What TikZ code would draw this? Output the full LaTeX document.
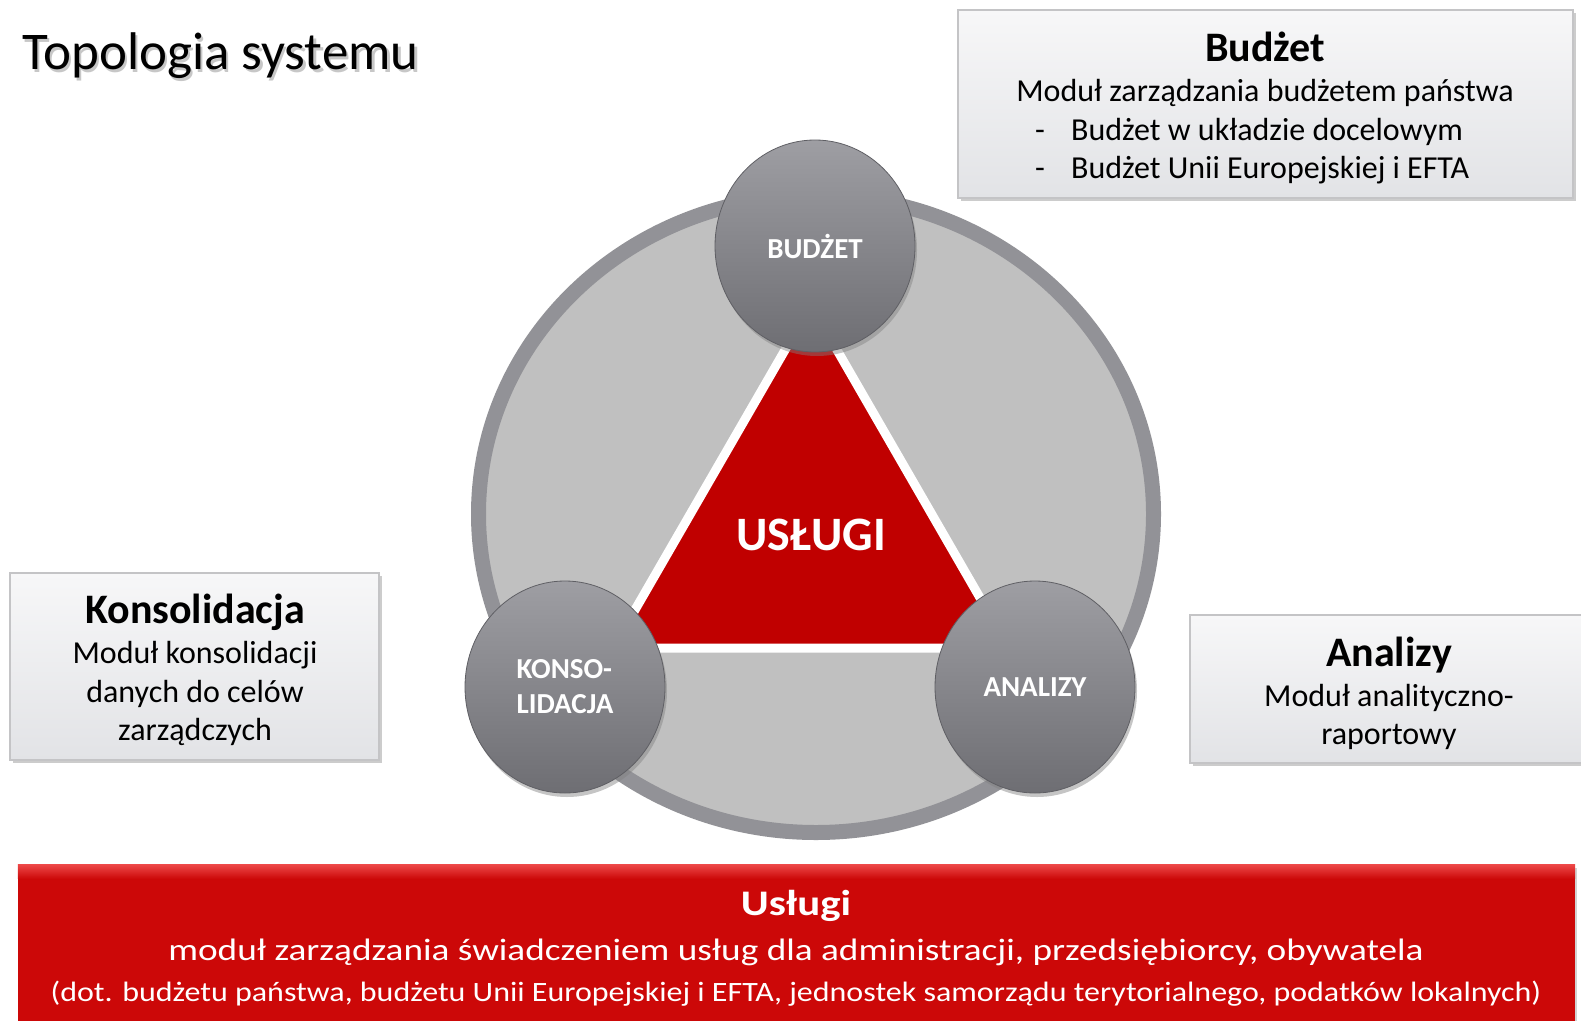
\documentclass[tikz,border=0pt]{standalone}
\usepackage{fontspec}
\setmainfont{Carlito}
\usetikzlibrary{shapes.geometric,shadows}

\definecolor{ringgray}{RGB}{146,146,151}
\definecolor{discgray}{RGB}{192,192,192}
\definecolor{ballhi}{RGB}{158,158,163}
\definecolor{balllo}{RGB}{110,110,115}
\definecolor{ballrim}{RGB}{95,95,100}
\definecolor{uslred}{RGB}{192,0,0}
\definecolor{barred}{RGB}{204,8,8}
\definecolor{barhi}{RGB}{236,70,70}
\definecolor{boxline}{RGB}{196,196,198}
\definecolor{boxhi}{RGB}{247,247,248}
\definecolor{boxlo}{RGB}{226,227,230}

\begin{document}
\begin{tikzpicture}[x=1pt,y=-1pt,
	ball/.style={ellipse,minimum width=200pt,minimum height=212pt,inner sep=0pt,draw=ballrim,line width=0.8pt,
		top color=ballhi,bottom color=balllo,text=white,font=\bfseries\fontsize{29}{35}\selectfont,
		drop shadow={shadow xshift=2pt,shadow yshift=-4pt,opacity=0.45}},
	infobox/.style={rectangle,draw=boxline,line width=1.5pt,top color=boxhi,bottom color=boxlo,inner sep=0pt,
		drop shadow={shadow xshift=3pt,shadow yshift=-3pt,opacity=0.4}},
	heading/.style={anchor=base,font=\bfseries\fontsize{42}{48}\selectfont},
	bodyline/.style={anchor=base,font=\fontsize{32}{38}\selectfont},
	bartext/.style={anchor=base,text=white,xscale=1.19}]
			\useasboundingbox (0,0) rectangle (1581,1020);
			\clip (0,0) rectangle (1581,1020);
			\fill[white] (0,0) rectangle (1581,1020);
			
			% title
			\node[anchor=base west,inner sep=0pt,text=black!22,font=\fontsize{53}{60}\selectfont] at (24.5,72) {Topologia systemu};
			\node[anchor=base west,inner sep=0pt,font=\fontsize{53}{60}\selectfont] (title) at (22,69) {Topologia systemu};
			
			% ring and triangle
			\draw[ringgray,fill=discgray,line width=15pt,drop shadow={shadow xshift=2pt,shadow yshift=-4pt,opacity=0.3}]
				(816,514) ellipse [x radius=337.5,y radius=318.5];
			\draw[white,line width=9pt,line join=miter,fill=uslred] (811,305) -- (613,648) -- (1009,648) -- cycle;
			\node[text=white,font=\bfseries\fontsize{48}{54}\selectfont] (uslugi) at (811,535) {USŁUGI};
			
			\node[ball] (budzetball) at (815,246) {BUDŻET};
			\node[ball,align=left] (konsoball) at (565,687) {KONSO-\\LIDACJA};
			\node[ball] (analizyball) at (1035,687) {ANALIZY};
			
			% description boxes
			\node[infobox,minimum width=615pt,minimum height=188pt] (budzetbox) at (1265.5,104) {};
			\node[heading] at (1265,61) {Budżet};
			\node[bodyline] at (1265,101) {Moduł zarządzania budżetem państwa};
			\foreach \y/\txt in {140/Budżet w układzie docelowym,178/Budżet Unii Europejskiej i EFTA} {
				\node[bodyline,anchor=base west,inner sep=0pt] at (1035,\y) {-};
				\node[bodyline,anchor=base west,inner sep=0pt] at (1071,\y) {\txt};
			}
			
			\node[infobox,minimum width=369pt,minimum height=187pt] (konsobox) at (194.5,666.5) {};
			\node[heading] at (195,623) {Konsolidacja};
			\node[bodyline] at (195,663) {Moduł konsolidacji};
			\node[bodyline] at (195,702) {danych do celów};
			\node[bodyline] at (195,740) {zarządczych};
			
			\node[infobox,minimum width=398pt,minimum height=148pt] (analizybox) at (1389,689) {};
			\node[heading] at (1389,666) {Analizy};
			\node[bodyline] at (1389,706) {Moduł analityczno-};
			\node[bodyline] at (1389,744) {raportowy};
			
			% services bar
			\node[rectangle,fill=barred,minimum width=1557pt,minimum height=165pt,inner sep=0pt,
				drop shadow={shadow xshift=2pt,shadow yshift=-3pt,opacity=0.35}] (uslugibar) at (796.5,947.5) {};
			\shade[top color=barhi,bottom color=barred] (uslugibar.north west) rectangle ([yshift=-14pt]uslugibar.north east);
			\node[bartext,font=\bfseries\fontsize{36}{44}\selectfont] at (796,915) {Usługi};
			\node[bartext,xscale=1.01,font=\fontsize{31}{38}\selectfont] at (796,960) {moduł zarządzania świadczeniem usług dla administracji, przedsiębiorcy, obywatela};
			\node[bartext,xscale=0.96,font=\fontsize{28}{34}\selectfont] at (796,1001) {(dot. budżetu państwa, budżetu Unii Europejskiej i EFTA, jednostek samorządu terytorialnego, podatków lokalnych)};
			\end{tikzpicture}
\end{document}
